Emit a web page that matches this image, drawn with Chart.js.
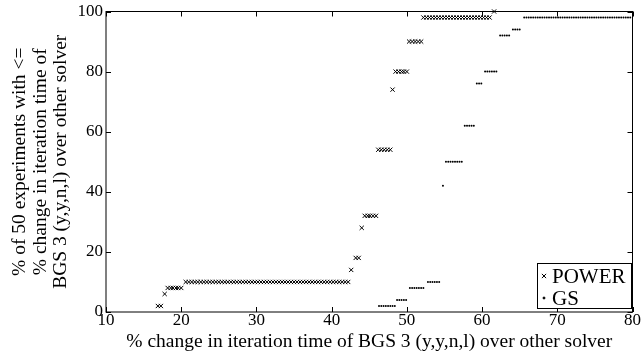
<!DOCTYPE html>
<html>
<head>
<meta charset="utf-8">
<script src="https://cdn.jsdelivr.net/npm/chart.js@4.4.1/dist/chart.umd.min.js"></script>
<style>
  html, body { margin: 0; padding: 0; background: #fff; }
</style>
</head>
<body>
<canvas id="chart" width="643" height="356"></canvas>
<script>
// tick labels
const xTicks = [10, 20, 30, 40, 50, 60, 70, 80];
const yTicks = [0, 20, 40, 60, 80, 100];

// POWER: y level and the x positions of the markers at that level
const powerLevels = [2, 6, 8, 10, 14, 18, 28, 32, 54, 74, 80, 90, 98, 100];
const powerRuns = [
    [16.9, 17.3],
    [17.8],
    [18.2, 18.6, 18.9, 19.3, 19.6, 20.0],
    [20.6, 21.0, 21.4, 21.8, 22.2, 22.6, 23.0, 23.4, 23.8, 24.2, 24.6, 25.0, 25.4, 25.8,
     26.2, 26.6, 27.0, 27.4, 27.8, 28.2, 28.6, 29.0, 29.4, 29.8, 30.2, 30.6, 31.0, 31.4,
     31.8, 32.2, 32.6, 33.0, 33.4, 33.8, 34.2, 34.6, 35.0, 35.4, 35.8, 36.2, 36.6, 37.0,
     37.4, 37.8, 38.2, 38.6, 39.0, 39.4, 39.8, 40.2, 40.6, 41.0, 41.4, 41.8, 42.2],
    [42.6],
    [43.2, 43.6],
    [44.0],
    [44.4, 44.8, 45.1, 45.5, 45.9],
    [46.2, 46.6, 47.0, 47.4, 47.8],
    [48.1],
    [48.5, 48.9, 49.3, 49.6, 50.0],
    [50.3, 50.7, 51.1, 51.5, 51.9],
    [52.2, 52.6, 53.0, 53.4, 53.8, 54.2, 54.6, 55.0, 55.4, 55.8, 56.2, 56.6, 57.0, 57.4,
     57.8, 58.2, 58.6, 59.0, 59.4, 59.8, 60.2, 60.6, 61.0],
    [61.6]
];

// GS
const gsLevels = [2, 4, 8, 10, 42, 50, 62, 76, 80, 92, 94, 98];
const gsRuns = [
    [46.3, 46.6, 46.9, 47.2, 47.5, 47.8, 48.1, 48.4],
    [48.7, 49.0, 49.3, 49.6, 49.9],
    [50.4, 50.7, 51.0, 51.3, 51.6, 51.9, 52.2],
    [52.8, 53.1, 53.4, 53.7, 54.0, 54.3],
    [54.8],
    [55.2, 55.5, 55.8, 56.1, 56.4, 56.7, 57.0, 57.3],
    [57.7, 58.0, 58.3, 58.6, 58.9],
    [59.3, 59.6, 59.9],
    [60.4, 60.7, 61.0, 61.3, 61.6, 61.9],
    [62.4, 62.7, 63.0, 63.3, 63.6],
    [64.1, 64.4, 64.7, 65.0],
    [65.6, 65.9, 66.2, 66.5, 66.8, 67.1, 67.4, 67.7, 68.0, 68.3, 68.6, 68.9, 69.2, 69.5,
     69.8, 70.1, 70.4, 70.7, 71.0, 71.3, 71.6, 71.9, 72.2, 72.5, 72.8, 73.1, 73.4, 73.7,
     74.0, 74.3, 74.6, 74.9, 75.2, 75.5, 75.8, 76.1, 76.4, 76.7, 77.0, 77.3, 77.6, 77.9,
     78.2, 78.5, 78.8, 79.1, 79.4, 79.7]
];

function toPoints(levels, runs) {
    const pts = [];
    levels.forEach((y, i) => runs[i].forEach(x => pts.push({ x: x, y: y })));
    return pts;
}

const FONT = "'Liberation Serif', 'Times New Roman', serif";
Chart.defaults.font.family = FONT;
Chart.defaults.color = '#000';

// frame + inward tick marks on all four sides
const framePlugin = {
    id: 'frame',
    beforeDatasetsDraw(chart) {
        const { ctx, chartArea: a, scales } = chart;
        ctx.save();
        ctx.strokeStyle = '#000';
        ctx.lineWidth = 1;
        ctx.strokeRect(a.left, a.top, a.right - a.left, a.bottom - a.top);
        ctx.beginPath();
        xTicks.forEach(v => {
            const px = Math.round(scales.x.getPixelForValue(v)) + 0.5;
            ctx.moveTo(px, a.bottom); ctx.lineTo(px, a.bottom - 5);
            ctx.moveTo(px, a.top); ctx.lineTo(px, a.top + 5);
        });
        yTicks.forEach(v => {
            const py = Math.round(scales.y.getPixelForValue(v)) + 0.5;
            ctx.moveTo(a.left, py); ctx.lineTo(a.left + 5, py);
            ctx.moveTo(a.right, py); ctx.lineTo(a.right - 5, py);
        });
        ctx.stroke();
        ctx.restore();
    }
};

// boxed legend in the lower right corner of the plot
const legendPlugin = {
    id: 'boxLegend',
    afterDraw(chart) {
        const { ctx, chartArea: a } = chart;
        const w = 94, h = 45;
        const x0 = a.right - 1.5 - w, y0 = a.bottom - 4 - h;
        ctx.save();
        ctx.fillStyle = '#fff';
        ctx.fillRect(x0, y0, w, h);
        ctx.strokeStyle = '#000';
        ctx.lineWidth = 1;
        ctx.strokeRect(x0 + 0.5, y0 + 0.5, w, h);
        const rows = [['POWER', 'crossRot', 3], ['GS', 'circle', 1]];
        rows.forEach((r, i) => {
            const cy = y0 + 13 + i * 22;
            Chart.helpers.drawPoint(ctx, {
                pointStyle: r[1], radius: r[2], borderWidth: 1, rotation: 0
            }, x0 + 7, cy);
            ctx.fillStyle = '#000';
            ctx.font = "21px " + FONT;
            ctx.textBaseline = 'middle';
            ctx.textAlign = 'left';
            ctx.fillText(r[0], x0 + 15, cy + 1);
        });
        ctx.restore();
    }
};

new Chart(document.getElementById('chart'), {
    type: 'scatter',
    data: {
        datasets: [
            {
                label: 'POWER',
                data: toPoints(powerLevels, powerRuns),
                pointStyle: 'crossRot',
                pointRadius: 3,
                borderColor: '#000',
                backgroundColor: '#000',
                borderWidth: 1,
                clip: false
            },
            {
                label: 'GS',
                data: toPoints(gsLevels, gsRuns),
                pointStyle: 'circle',
                pointRadius: 1,
                borderWidth: 0,
                backgroundColor: '#000',
                clip: false
            }
        ]
    },
    options: {
        responsive: false,
        animation: false,
        layout: { padding: { top: 10, right: 10.5, left: 0, bottom: 0 } },
        plugins: { legend: { display: false }, tooltip: { enabled: false } },
        scales: {
            x: {
                type: 'linear',
                min: 10, max: 80,
                afterBuildTicks: s => { s.ticks = xTicks.map(v => ({ value: v })); },
                afterFit: s => { s.height = 44; },
                grid: { display: false, drawTicks: false },
                border: { display: false },
                ticks: { font: { size: 17, lineHeight: 1 }, padding: 0, maxRotation: 0 },
                title: {
                    display: true,
                    text: '% change in iteration time of BGS 3 (y,y,n,l) over other solver',
                    font: { size: 19.5, lineHeight: 1.1 },
                    padding: { top: 0, bottom: 3 }
                }
            },
            y: {
                min: 0, max: 100,
                afterBuildTicks: s => { s.ticks = yTicks.map(v => ({ value: v })); },
                afterFit: s => { s.width = 106; },
                grid: { display: false, drawTicks: false },
                border: { display: false },
                ticks: { font: { size: 17, lineHeight: 1 }, padding: 3 },
                title: {
                    display: true,
                    text: ['% of 50 experiments with <=',
                           '% change in iteration time of',
                           'BGS 3 (y,y,n,l) over other solver'],
                    font: { size: 19.5, lineHeight: 1.05 },
                    padding: { top: 10, bottom: 0 }
                }
            }
        }
    },
    plugins: [framePlugin, legendPlugin]
});
</script>
</body>
</html>
